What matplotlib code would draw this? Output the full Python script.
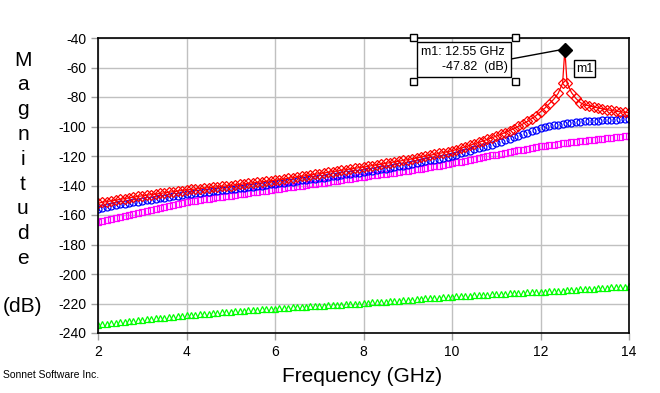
import numpy as np
import matplotlib
matplotlib.use("Agg")
import matplotlib.pyplot as plt
from matplotlib.patches import Rectangle

# sweep, 2 - 14 GHz in 0.1 GHz steps
freq = np.round(np.arange(2.0, 14.0001, 0.1), 2)

red_db = [
    -152.0, -151.4, -150.9, -150.4, -149.9, -149.4, -148.9, -148.4, -147.9, -147.4,
    -147.0, -146.6, -146.2, -145.8, -145.4, -145.0, -144.6, -144.2, -143.8, -143.4,
    -143.0, -142.7, -142.4, -142.1, -141.8, -141.5, -141.2, -140.9, -140.6, -140.3,
    -140.0, -139.6, -139.3, -138.9, -138.6, -138.2, -137.9, -137.5, -137.2, -136.8,
    -136.5, -136.0, -135.6, -135.1, -134.7, -134.2, -133.8, -133.3, -132.9, -132.4,
    -132.0, -131.5, -131.1, -130.6, -130.2, -129.7, -129.3, -128.8, -128.4, -127.9,
    -127.5, -127.0, -126.5, -126.0, -125.5, -125.0, -124.5, -124.0, -123.5, -123.0,
    -122.5, -121.9, -121.3, -120.7, -120.1, -119.5, -118.9, -118.3, -117.7, -117.1,
    -116.5, -115.6, -114.7, -113.8, -112.8, -111.8, -110.8, -109.8, -108.7, -107.6,
    -106.5, -105.3, -104.1, -102.8, -101.4, -99.9, -98.3, -96.6, -94.7, -92.6,
    -90.0, -87.5, -84.5, -81.5, -77.5, -70.5, -70.5, -77.0, -81.0, -83.8,
    -85.3, -86.0, -86.7, -87.4, -88.0, -88.6, -89.1, -89.6, -90.0, -90.4,
    -90.7,
]

blue_db = [
    -156.0, -155.3, -154.7, -154.0, -153.4, -152.8, -152.3, -151.8, -151.3, -150.9,
    -150.5, -150.0, -149.5, -149.1, -148.6, -148.2, -147.7, -147.3, -146.8, -146.4,
    -146.0, -145.6, -145.3, -144.9, -144.6, -144.2, -143.9, -143.5, -143.2, -142.8,
    -142.5, -142.1, -141.8, -141.4, -141.1, -140.7, -140.4, -140.0, -139.7, -139.3,
    -139.0, -138.6, -138.2, -137.8, -137.4, -137.0, -136.6, -136.2, -135.8, -135.4,
    -135.0, -134.6, -134.2, -133.8, -133.4, -133.0, -132.5, -132.1, -131.7, -131.3,
    -130.9, -130.5, -130.0, -129.5, -129.0, -128.5, -128.0, -127.5, -127.0, -126.5,
    -126.0, -125.4, -124.8, -124.2, -123.6, -123.0, -122.4, -121.8, -121.2, -120.6,
    -120.0, -119.1, -118.2, -117.3, -116.4, -115.5, -114.7, -113.9, -113.1, -112.3,
    -111.5, -110.4, -109.3, -108.2, -107.1, -106.2, -105.2, -104.2, -103.2, -102.2,
    -101.3, -100.5, -99.8, -99.2, -98.7, -98.3, -97.9, -97.5, -97.1, -96.8,
    -96.5, -96.3, -96.2, -96.0, -95.8, -95.7, -95.5, -95.4, -95.2, -95.1,
    -95.0,
]

magenta_db = [
    -165.0, -164.2, -163.5, -162.8, -162.1, -161.5, -160.8, -160.1, -159.4, -158.7,
    -158.0, -157.3, -156.5, -155.8, -155.0, -154.3, -153.6, -153.0, -152.3, -151.6,
    -151.0, -150.6, -150.2, -149.7, -149.3, -148.9, -148.5, -148.0, -147.6, -147.2,
    -146.8, -146.4, -146.0, -145.5, -145.1, -144.7, -144.3, -143.8, -143.4, -142.9,
    -142.5, -142.1, -141.7, -141.3, -140.9, -140.5, -140.1, -139.7, -139.3, -138.9,
    -138.5, -138.1, -137.6, -137.2, -136.7, -136.3, -135.8, -135.4, -134.9, -134.5,
    -134.0, -133.6, -133.2, -132.8, -132.4, -132.0, -131.6, -131.2, -130.8, -130.4,
    -130.0, -129.5, -129.0, -128.5, -128.0, -127.5, -127.0, -126.5, -126.0, -125.5,
    -125.0, -124.4, -123.8, -123.2, -122.6, -122.0, -121.4, -120.8, -120.2, -119.6,
    -119.0, -118.4, -117.9, -117.3, -116.8, -116.2, -115.7, -115.1, -114.6, -114.0,
    -113.5, -113.1, -112.7, -112.3, -111.9, -111.5, -111.1, -110.7, -110.3, -109.9,
    -109.5, -109.2, -108.9, -108.5, -108.2, -107.9, -107.6, -107.2, -106.9, -106.6,
    -106.3,
]

green_db = [
    -234.6, -234.2, -233.8, -233.5, -233.1, -232.8, -232.4, -232.1, -231.7, -231.4,
    -231.0, -230.7, -230.4, -230.1, -229.8, -229.5, -229.2, -228.9, -228.6, -228.3,
    -228.0, -227.8, -227.5, -227.3, -227.0, -226.8, -226.5, -226.3, -226.0, -225.8,
    -225.5, -225.3, -225.1, -224.9, -224.7, -224.5, -224.3, -224.0, -223.8, -223.6,
    -223.4, -223.2, -223.0, -222.9, -222.7, -222.5, -222.3, -222.1, -222.0, -221.8,
    -221.6, -221.4, -221.2, -221.1, -220.9, -220.7, -220.5, -220.3, -220.2, -220.0,
    -219.8, -219.6, -219.3, -219.1, -218.9, -218.7, -218.4, -218.2, -218.0, -217.7,
    -217.5, -217.3, -217.1, -216.8, -216.6, -216.4, -216.2, -216.0, -215.7, -215.5,
    -215.3, -215.1, -215.0, -214.8, -214.6, -214.5, -214.3, -214.1, -213.9, -213.8,
    -213.6, -213.4, -213.3, -213.1, -213.0, -212.8, -212.7, -212.5, -212.4, -212.2,
    -212.1, -211.9, -211.7, -211.5, -211.4, -211.2, -211.0, -210.8, -210.7, -210.5,
    -210.3, -210.1, -209.9, -209.7, -209.5, -209.3, -209.1, -208.9, -208.7, -208.5,
    -208.3,
]

# marker m1
m1_freq = 12.55
m1_db = -47.82

xticks = [2, 4, 6, 8, 10, 12, 14]
yticks = [-40, -60, -80, -100, -120, -140, -160, -180, -200, -220, -240]

plt.rcParams['font.family'] = ['Liberation Sans', 'DejaVu Sans']
plt.rcParams['axes.unicode_minus'] = False

fig = plt.figure(figsize=(6.6, 3.93), dpi=100)
ax = fig.add_axes([98/660, 1 - 333/393, 531/660, 295/393])

# red trace also passes through the marker point
idx = np.searchsorted(freq, m1_freq)
red_f = np.insert(freq, idx, m1_freq)
red_v = np.insert(np.array(red_db), idx, m1_db)

mk = dict(ms=5, mew=0.9, mfc='none', ls='none')
ax.plot(freq, green_db, marker='^', mec='#00ff00', **mk)
ax.plot(freq, magenta_db, marker='s', mec='#ff00ff', **mk)
ax.plot(freq, blue_db, marker='o', mec='#0000ff', **mk)
ax.plot(red_f, red_v, color='#ff0000', lw=0.9)
ax.plot(freq, red_db, marker='D', mec='#ff0000', **mk)

ax.plot([m1_freq], [m1_db], marker='D', color='black', ms=7, zorder=6)

ax.set_xlim(2, 14)
ax.set_ylim(-240, -40)
ax.set_xticks(xticks)
ax.set_yticks(yticks)
ax.grid(True, color='#c0c0c0', lw=1)
ax.tick_params(colors='#a0a0a0', labelcolor='black', labelsize=10, length=5, width=1)
for s in ax.spines.values():
    s.set_color('black')
    s.set_linewidth(1.2)

# stacked y label
for i, ch in enumerate("Magnitude"):
    y = 60 + i * 24.8
    fig.text(23/660, 1 - y/393, ch, ha='center', va='center', fontsize=15)
fig.text(23/660, 1 - 307/393, "(dB)", ha='center', va='center', fontsize=15)

fig.text(362/660, 1 - 377/393, "Frequency (GHz)", ha='center', va='center', fontsize=15)
fig.text(3/660, 1 - 375/393, "Sonnet Software Inc.", ha='left', va='center', fontsize=7.5)

# marker readout box
def px(x, y):
    return (x/660, 1 - y/393)

box = Rectangle(px(417, 77), 94/660, 35/393, transform=fig.transFigure,
                fc='white', ec='black', lw=1, zorder=10)
fig.patches.append(box)
fig.text(*px(421, 52), "m1: 12.55 GHz", ha='left', va='center', fontsize=9, zorder=11)
fig.text(*px(508, 67), "-47.82  (dB)", ha='right', va='center', fontsize=9, zorder=11)
for hx, hy in [(413, 37), (515, 37), (413, 81), (515, 81)]:
    fig.patches.append(Rectangle(px(hx - 3.5, hy + 3.5), 7/660, 7/393,
                                 transform=fig.transFigure, fc='white', ec='black',
                                 lw=1, zorder=12))
fig.lines.append(plt.Line2D([511/660, 565/660], [1 - 59/393, 1 - 49/393],
                            transform=fig.transFigure, color='black', lw=1, zorder=9))

lbl = Rectangle(px(574, 77), 21/660, 17/393, transform=fig.transFigure,
                fc='white', ec='black', lw=1, zorder=10)
fig.patches.append(lbl)
fig.text(*px(584.5, 68.5), "m1", ha='center', va='center', fontsize=9, zorder=11)

fig.savefig("out.png", dpi=100)
